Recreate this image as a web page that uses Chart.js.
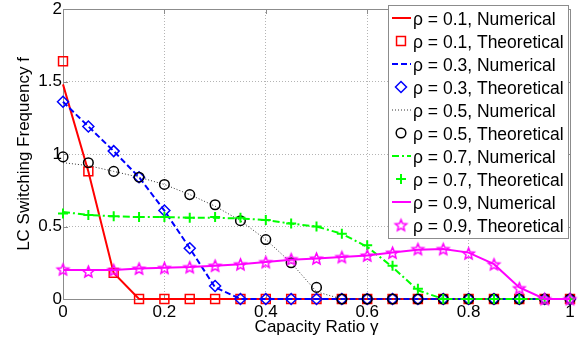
<!DOCTYPE html>
<html>
<head>
<meta charset="utf-8">
<script src="https://cdn.jsdelivr.net/npm/chart.js@4/dist/chart.umd.min.js"></script>
<style>
  html, body { margin: 0; padding: 0; background: #fff; }
  canvas { display: block; }
</style>
</head>
<body>
<canvas id="c" width="585" height="346"></canvas>
<script>
// Capacity ratio samples
const gamma = [0, 0.05, 0.1, 0.15, 0.2, 0.25, 0.3, 0.35, 0.4, 0.45, 0.5,
               0.55, 0.6, 0.65, 0.7, 0.75, 0.8, 0.85, 0.9, 0.95, 1];

// LC switching frequency, simulated (Numerical) and analytic (Theoretical)
const rho01Numerical   = [1.48, 0.88, 0.18, 0, 0, 0, 0, 0, 0, 0, 0, 0, 0, 0, 0, 0, 0, 0, 0, 0, 0];
const rho01Theoretical = [1.64, 0.88, 0.18, 0, 0, 0, 0, 0, 0, 0, 0, 0, 0, 0, 0, 0, 0, 0, 0, 0, 0];
const rho03Numerical   = [1.36, 1.19, 1.02, 0.84, 0.61, 0.35, 0.08, 0, 0, 0, 0, 0, 0, 0, 0, 0, 0, 0, 0, 0, 0];
const rho03Theoretical = [1.36, 1.19, 1.02, 0.84, 0.61, 0.35, 0.09, 0, 0, 0, 0, 0, 0, 0, 0, 0, 0, 0, 0, 0, 0];
const rho05Numerical   = [0.94, 0.92, 0.88, 0.84, 0.79, 0.72, 0.64, 0.54, 0.41, 0.25, 0.05, 0, 0, 0, 0, 0, 0, 0, 0, 0, 0];
const rho05Theoretical = [0.98, 0.94, 0.88, 0.84, 0.79, 0.72, 0.65, 0.54, 0.41, 0.25, 0.08, 0, 0, 0, 0, 0, 0, 0, 0, 0, 0];
const rho07Numerical   = [0.60, 0.58, 0.57, 0.565, 0.565, 0.56, 0.56, 0.555, 0.545, 0.52, 0.50, 0.45, 0.36, 0.22, 0.06, 0, 0, 0, 0, 0, 0];
const rho07Theoretical = [0.59, 0.58, 0.57, 0.565, 0.565, 0.56, 0.565, 0.56, 0.545, 0.52, 0.50, 0.45, 0.37, 0.23, 0.07, 0, 0, 0, 0, 0, 0];
const rho09Numerical   = [0.20, 0.20, 0.20, 0.21, 0.215, 0.22, 0.23, 0.24, 0.255, 0.27, 0.28, 0.29, 0.30, 0.32, 0.34, 0.345, 0.32, 0.24, 0.08, 0, 0];
const rho09Theoretical = [0.205, 0.19, 0.20, 0.21, 0.215, 0.22, 0.23, 0.24, 0.255, 0.275, 0.28, 0.29, 0.30, 0.32, 0.345, 0.345, 0.315, 0.24, 0.075, 0, 0];

const seriesLabels = [
  'ρ = 0.1, Numerical', 'ρ = 0.1, Theoretical',
  'ρ = 0.3, Numerical', 'ρ = 0.3, Theoretical',
  'ρ = 0.5, Numerical', 'ρ = 0.5, Theoretical',
  'ρ = 0.7, Numerical', 'ρ = 0.7, Theoretical',
  'ρ = 0.9, Numerical', 'ρ = 0.9, Theoretical'
];
const seriesValues = [
  rho01Numerical, rho01Theoretical, rho03Numerical, rho03Theoretical,
  rho05Numerical, rho05Theoretical, rho07Numerical, rho07Theoretical,
  rho09Numerical, rho09Theoretical
];

// Axis ticks
const xTickValues = [0, 0.2, 0.4, 0.6, 0.8, 1];
const xTickLabels = ['0', '0.2', '0.4', '0.6', '0.8', '1'];
const yTickValues = [0, 0.5, 1, 1.5, 2];
const yTickLabels = ['0', '0.5', '1', '1.5', '2'];

const xTitle = 'Capacity Ratio γ';
const yTitle = 'LC Switching Frequency f';

// Five-pointed outlined star marker
function pentagram(color, r, lw) {
  const size = Math.ceil(2 * r + 2 * lw + 2);
  const c = document.createElement('canvas');
  c.width = c.height = size;
  const g = c.getContext('2d');
  const cx = size / 2, cy = size / 2 + r * 0.1;
  g.beginPath();
  for (let k = 0; k < 10; k++) {
    const rad = k % 2 ? r * 0.45 : r;
    const a = -Math.PI / 2 + k * Math.PI / 5;
    g.lineTo(cx + rad * Math.cos(a), cy + rad * Math.sin(a));
  }
  g.closePath();
  g.strokeStyle = color;
  g.lineWidth = lw;
  g.lineJoin = 'miter';
  g.stroke();
  return c;
}

// Per-series drawing styles
const styles = [
  { color: '#ff0000', width: 2,   dash: [] },
  { color: '#ff0000', marker: 'rect',    radius: 6.3, mw: 1.5 },
  { color: '#0000ff', width: 2,   dash: [6, 3] },
  { color: '#0000ff', marker: 'rectRot', radius: 5.5, mw: 1.5 },
  { color: '#333333', width: 1,   dash: [1, 2] },
  { color: '#000000', marker: 'circle',  radius: 4.8, mw: 1.5 },
  { color: '#00ff00', width: 2,   dash: [7, 3, 2, 3] },
  { color: '#00ff00', marker: 'cross',   radius: 5,   mw: 2 },
  { color: '#ff00ff', width: 2,   dash: [] },
  { color: '#ff00ff', marker: 'star',    radius: 6,   mw: 1.5 }
];
const starImg = pentagram('#ff00ff', 6, 1.5);

const datasets = seriesValues.map((vals, i) => {
  const s = styles[i];
  const base = {
    label: seriesLabels[i],
    data: gamma.map((g, k) => ({ x: g, y: vals[k] })),
    order: seriesValues.length - i,
    clip: false
  };
  if (s.marker) {
    return Object.assign(base, {
      showLine: false,
      pointStyle: s.marker === 'star' ? starImg : s.marker,
      pointRadius: s.radius,
      pointBorderWidth: s.mw,
      pointBorderColor: s.color,
      pointBackgroundColor: 'rgba(0,0,0,0)',
      borderColor: s.color
    });
  }
  return Object.assign(base, {
    showLine: true,
    borderColor: s.color,
    borderWidth: s.width,
    borderDash: s.dash,
    pointRadius: 0,
    tension: 0
  });
});

const FRAME = '#8c8c8c';
const FONT = '"Liberation Sans", Arial, Helvetica, sans-serif';

// Box around the axes with inward tick marks on all four sides
const framePlugin = {
  id: 'frame',
  beforeDatasetsDraw(chart) {
    const { ctx, chartArea: a, scales: { x, y } } = chart;
    ctx.save();
    ctx.strokeStyle = FRAME;
    ctx.lineWidth = 1;
    ctx.setLineDash([]);
    const L = 5;
    ctx.beginPath();
    xTickValues.forEach(v => {
      const px = Math.round(x.getPixelForValue(v)) + 0.5;
      ctx.moveTo(px, a.bottom); ctx.lineTo(px, a.bottom - L);
      ctx.moveTo(px, a.top); ctx.lineTo(px, a.top + L);
    });
    yTickValues.forEach(v => {
      const py = Math.round(y.getPixelForValue(v)) + 0.5;
      ctx.moveTo(a.left, py); ctx.lineTo(a.left + L, py);
      ctx.moveTo(a.right, py); ctx.lineTo(a.right - L, py);
    });
    ctx.stroke();
    ctx.strokeRect(Math.round(a.left) + 0.5, Math.round(a.top) + 0.5,
                   Math.round(a.right - a.left), Math.round(a.bottom - a.top));
    ctx.restore();
  }
};

// Legend symbol: an outlined marker or a short line sample
function legendSymbol(ctx, s, cx, cy) {
  ctx.save();
  ctx.strokeStyle = s.color;
  if (!s.marker) {
    ctx.lineWidth = s.width;
    ctx.setLineDash(s.dash);
    ctx.beginPath();
    ctx.moveTo(cx - 9, cy);
    ctx.lineTo(cx + 10, cy);
    ctx.stroke();
  } else if (s.marker === 'star') {
    ctx.drawImage(starImg, cx - starImg.width / 2, cy - starImg.height / 2);
  } else {
    ctx.lineWidth = s.mw;
    ctx.setLineDash([]);
    ctx.beginPath();
    const r = s.radius;
    if (s.marker === 'rect') {
      const h = r * Math.SQRT1_2;
      ctx.rect(cx - h, cy - h, 2 * h, 2 * h);
    } else if (s.marker === 'rectRot') {
      ctx.moveTo(cx, cy - r); ctx.lineTo(cx + r, cy);
      ctx.lineTo(cx, cy + r); ctx.lineTo(cx - r, cy); ctx.closePath();
    } else if (s.marker === 'circle') {
      ctx.arc(cx, cy, r, 0, Math.PI * 2);
    } else if (s.marker === 'cross') {
      ctx.moveTo(cx - r, cy); ctx.lineTo(cx + r, cy);
      ctx.moveTo(cx, cy - r); ctx.lineTo(cx, cy + r);
    }
    ctx.stroke();
  }
  ctx.restore();
}

// Boxed legend in the upper right corner
const legendPlugin = {
  id: 'boxLegend',
  afterDraw(chart) {
    const { ctx } = chart;
    const bx = 388, by = 5, bw = 180, bh = 233, row = 23;
    ctx.save();
    ctx.fillStyle = '#ffffff';
    ctx.fillRect(bx, by, bw, bh);
    ctx.strokeStyle = FRAME;
    ctx.lineWidth = 1;
    ctx.strokeRect(bx + 0.5, by + 0.5, bw, bh);
    ctx.font = '17.5px ' + FONT;
    ctx.textBaseline = 'alphabetic';
    ctx.textAlign = 'left';
    chart.data.datasets.forEach((ds, i) => {
      legendSymbol(ctx, styles[i], 401, by + 13 + i * row);
      ctx.fillStyle = '#000';
      ctx.fillText(ds.label, 413, by + 20 + i * row);
    });
    ctx.restore();
  }
};

Chart.defaults.font.family = FONT;
Chart.defaults.font.size = 17;
Chart.defaults.color = '#000';

new Chart(document.getElementById('c'), {
  type: 'scatter',
  data: { datasets },
  options: {
    responsive: false,
    animation: false,
    devicePixelRatio: 1,
    layout: { padding: { left: 0, right: 15, top: 9, bottom: 0 } },
    plugins: { legend: { display: false }, tooltip: { enabled: false } },
    scales: {
      x: {
        type: 'linear', min: 0, max: 1,
        afterBuildTicks: s => { s.ticks = xTickValues.map(v => ({ value: v })); },
        afterFit: s => { s.height = 47; s.paddingLeft = 0; s.paddingRight = 0; s.paddingTop = 0; s.paddingBottom = 0; },
        ticks: { padding: 3, maxRotation: 0, autoSkip: false,
                 callback: (v, i) => xTickLabels[i] },
        grid: { color: '#b4b4b4', lineWidth: 1, drawTicks: false },
        border: { display: false, dash: [1, 2] },
        title: { display: true, text: xTitle, font: { size: 17 }, padding: { top: 0, bottom: 8 } }
      },
      y: {
        type: 'linear', min: 0, max: 2,
        afterBuildTicks: s => { s.ticks = yTickValues.map(v => ({ value: v })); },
        afterFit: s => { s.width = 63; s.paddingLeft = 0; s.paddingRight = 0; s.paddingTop = 0; s.paddingBottom = 0; },
        ticks: { padding: 1, autoSkip: false,
                 callback: (v, i) => yTickLabels[i] },
        grid: { color: '#b4b4b4', lineWidth: 1, drawTicks: false },
        border: { display: false, dash: [1, 2] },
        title: { display: true, text: yTitle, font: { size: 17 }, padding: { top: 14, bottom: 0 } }
      }
    }
  },
  plugins: [framePlugin, legendPlugin]
});
</script>
</body>
</html>
